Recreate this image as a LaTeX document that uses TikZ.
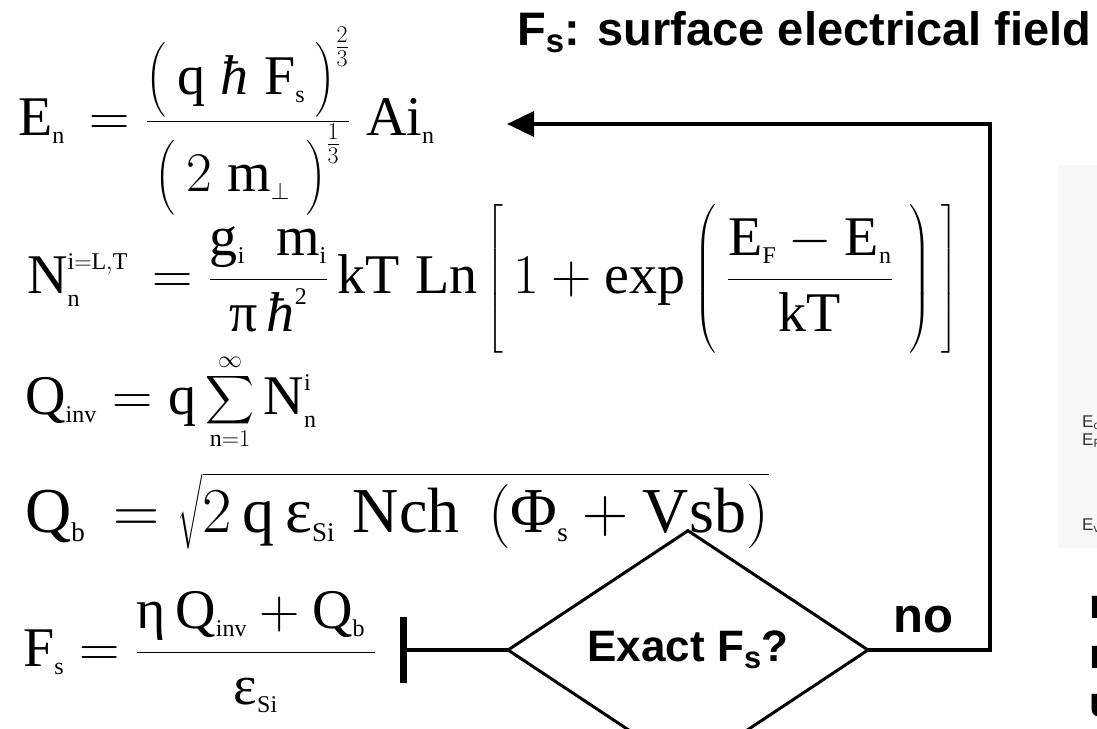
\RequirePackage{fix-cm}
\documentclass[tikz,border=0pt]{standalone}
\usepackage{amsmath}
\usepackage{fontspec}
\setmainfont{Liberation Serif}
\setsansfont{Liberation Sans}
\usetikzlibrary{positioning,arrows.meta,shapes.geometric}
\DeclareMathSizes{56}{56}{32}{24}
\DeclareMathSizes{64}{64}{36}{27}
\newcommand{\rsub}[1]{_{\scriptscriptstyle\mathrm{#1}}}
\newcommand{\rsup}[1]{^{\scriptscriptstyle\mathrm{#1}}}
\newcommand{\hb}{\text{\itshape ħ}}
\newcommand{\opendl}[2]{\mathopen{\left#2\vcenter to #1{}\right.}}
\newcommand{\closedl}[2]{\mathclose{\left.\vcenter to #1{}\right#2}}
\newcommand{\bigsum}{\mathop{\vcenter{\hbox{\scalebox{1.36}{$\displaystyle\sum$}}}}\limits}

\begin{document}
\begin{tikzpicture}[x=1pt,y=-1pt,
          eqn/.style={anchor=base west,inner sep=0pt,
                      font=\fontsize{56}{67}\selectfont},
          bigeqn/.style={eqn,font=\fontsize{64}{77}\selectfont},
          flow/.style={draw=black,line width=3.5pt},
          decision/.style={diamond,draw=black,line width=3pt,
                           minimum width=360pt,minimum height=176pt,
                           inner sep=0pt,outer sep=0pt,
                           font=\sffamily\bfseries\fontsize{44}{50}\selectfont},
          heading/.style={anchor=base west,inner sep=0pt,
                          font=\sffamily\bfseries\fontsize{47}{54}\selectfont},
          bandlbl/.style={anchor=base west,inner sep=0pt,text=black!80,
                          font=\sffamily\fontsize{17}{20}\selectfont},
          sidetxt/.style={anchor=base west,inner sep=0pt,
                          font=\sffamily\bfseries\fontsize{42}{48}\selectfont}]
        \useasboundingbox (0,0) rectangle (1097,728);
        % faint band panel cut by the right edge
        \fill[black!3] (1058,165) rectangle (1097,548);
        \node[bandlbl] (ec) at (1082,427) {E\textsubscript{c}};
        \node[bandlbl] (ef) at (1082,445) {E\textsubscript{F}};
        \node[bandlbl] (ev) at (1082,530) {E\textsubscript{v}};
        \node[sidetxt] (sidea) at (1089,618) {n};
        \node[sidetxt] (sideb) at (1089,668) {n};
        \node[sidetxt] (sidec) at (1089,716) {u};
        % title
        \node[heading] (title) at (517,45) {F\textsubscript{s}: surface electrical field};
        % equations
        \node[eqn] (en) at (18,135)
            {$\displaystyle \mathrm{E}\rsub{n}\,=
              \frac{\opendl{70pt}(\,\mathrm{q}\;\hb\;\mathrm{F}\rsub{s}\,\closedl{70pt})^{\frac{2}{3}}}
                   {\opendl{70pt}(\,2\;\mathrm{m}\rsub{\perp}\;\closedl{70pt})^{\frac{1}{3}}}
              \;\mathrm{Ai}\rsub{n}$};
        \node[eqn] (nn) at (27,293)
            {$\displaystyle \mathrm{N}\rsub{n}\rsup{i=L,T}\,=
              \frac{\mathrm{g}\rsub{i}\;\;\mathrm{m}\rsub{i}}{\text{π}\,\hb\rsup{2}}
              \,\mathrm{kT}\;\mathrm{Ln}\,\opendl{150pt}[\,1+\exp\,\opendl{142pt}(\,
              \frac{\mathrm{E}\rsub{F}-\mathrm{E}\rsub{n}}{\mathrm{kT}}\;
              \closedl{142pt})\,\closedl{150pt}]$};
        \node[eqn] (qinv) at (25,414)
            {$\displaystyle \mathrm{Q}\rsub{inv}= \mathrm{q}
              \bigsum_{\scriptscriptstyle\mathrm{n}=1}^{\scriptscriptstyle\infty}
              \mathrm{N}\rsub{n}\rsup{i}$};
        \node[bigeqn] (qb) at (25,532)
            {$\displaystyle \mathrm{Q}\rsub{b}\,= \sqrt{2\,\mathrm{q}\,\text{ε}\rsub{Si}\;
              \mathrm{Nch}\;\left(\text{Φ}\rsub{s}+\mathrm{Vsb}\right)}$};
        \node[eqn] (fs) at (23,666)
            {$\displaystyle \mathrm{F}\rsub{s}=
              \frac{\text{η}\,\mathrm{Q}\rsub{inv}+\mathrm{Q}\rsub{b}\,}{\text{ε}\rsub{Si}}$};
        % decision and loop
        \node[decision] (exact) at (688,650) {Exact F\textsubscript{s}?};
        \node[heading,font=\sffamily\bfseries\fontsize{49}{55}\selectfont]
            (no) at (893,632) {no};
        \coordinate (fsbar) at (400,650);
        \coordinate (loopup) at (990,124);
        \coordinate (entip) at (507,124);
        \draw[flow,-{Bar[width=66pt,line width'=7pt]}] (exact.west) -- (fsbar);
        \draw[flow,-{Triangle[length=27pt,width=25pt]}]
            (exact.east) -| (loopup) -- (entip);
      \end{tikzpicture}
\end{document}
